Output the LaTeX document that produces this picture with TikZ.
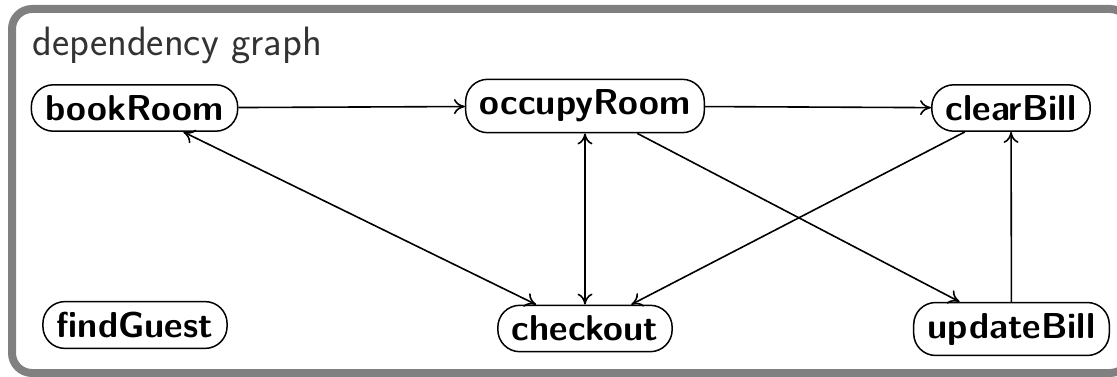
\documentclass[tikz,border=0pt]{standalone}
\usetikzlibrary{arrows.meta}
\begin{document}
\begin{tikzpicture}[x=1pt,y=-1pt,
  task/.style={draw=black,line width=1.5pt,rounded corners=22pt,fill=white,
    inner xsep=14pt,inner ysep=10.5pt,
    font=\fontsize{36}{42}\selectfont\sffamily\bfseries},
  tip/.tip={To[length=11pt,width=15pt]},
  dep/.style={line width=1.6pt,-tip},
  bidep/.style={line width=1.6pt,tip-tip}]
  \useasboundingbox (0,0) rectangle (1117,377);
  \begin{scope}
    \clip (0,0) rectangle (1117,377);
    \draw[line width=8pt,draw=black!50,rounded corners=20pt] (12,9) rectangle (1130,373);
  \end{scope}
  \node[anchor=base west,text=black!80,inner sep=0pt,
        font=\fontsize{41}{48}\selectfont\sffamily] (title) at (32,56) {dependency graph};

  \node[task] (book) at (134.5,108) {bookRoom};
  \node[task] (occupy) at (585,106) {occupyRoom};
  \node[task] (clear) at (1011,108) {clearBill};
  \node[task] (find) at (135,325) {findGuest};
  \node[task] (checkout) at (585,328.5) {checkout};
  \node[task] (update) at (1011.5,329) {updateBill};

  \draw[dep] (book) -- (occupy);
  \draw[dep] (occupy) -- (clear);
  \draw[bidep] (book) -- (checkout);
  \draw[bidep] (occupy) -- (checkout);
  \draw[dep] (occupy) -- (update);
  \draw[dep] (clear) -- (checkout);
  \draw[dep] (update) -- (clear);
\end{tikzpicture}
\end{document}
